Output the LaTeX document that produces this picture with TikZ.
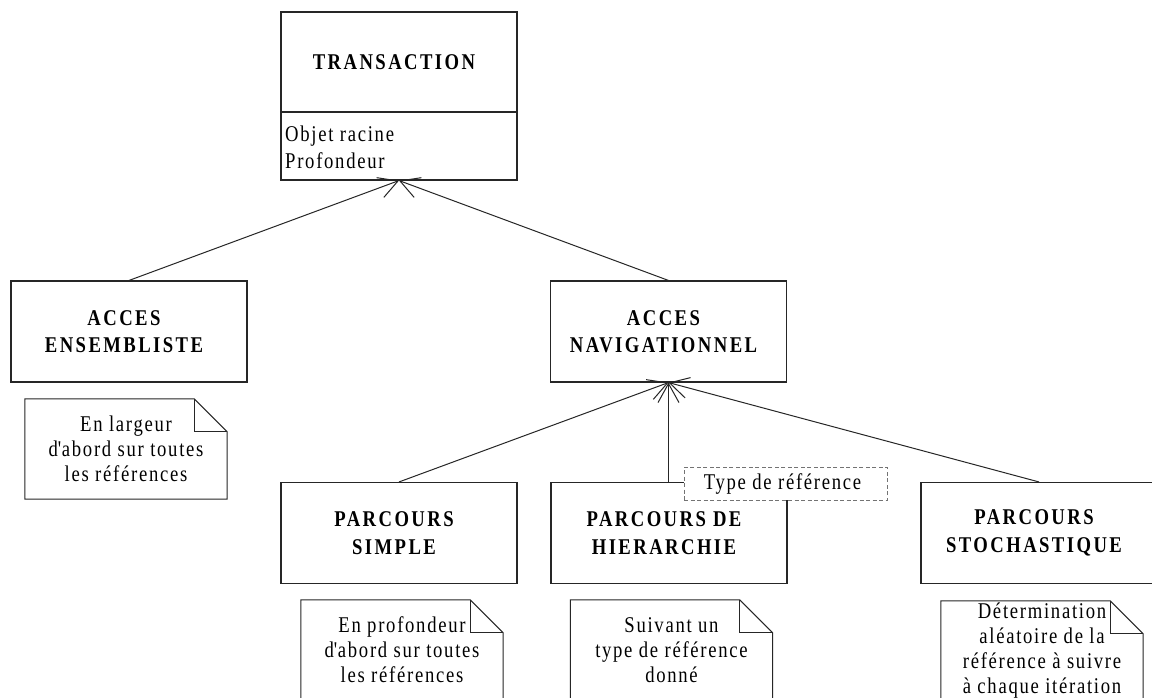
\documentclass[tikz,border=0pt]{standalone}
\usepackage{fontspec}
\setmainfont{Liberation Serif}[FakeStretch=0.83,LetterSpace=7.6]
\newfontfamily\titlefamily{Liberation Serif}[FakeStretch=0.83,LetterSpace=10.8]
\usetikzlibrary{arrows.meta}
\newcommand{\apos}{\textquotesingle}

\begin{document}
\begin{tikzpicture}[x=1pt,y=-1pt,
  boxline/.style={draw=black!85,line width=1.1pt},
  clsbox/.style={boxline,minimum width=236pt,minimum height=101pt,inner sep=0pt},
  titletext/.style={inner sep=0pt,align=center,xshift=-5pt,
    font=\titlefamily\bfseries\fontsize{22.5}{27.5}\selectfont},
  attrtext/.style={inner sep=0pt,align=left,anchor=north west,font=\fontsize{22.5}{27}\selectfont},
  notebox/.style={minimum width=202pt,minimum height=100pt,inner sep=0pt,align=center,
    font=\fontsize{22.5}{25}\selectfont},
  noteline/.style={draw=black!85,line width=1pt},
  tagbox/.style={draw=black!55,line width=1pt,dash pattern=on 4pt off 2.5pt,fill=white,
    minimum width=203pt,minimum height=33pt,inner sep=0pt},
  tagtext/.style={inner sep=0pt,xshift=-3pt,font=\fontsize{22.5}{25}\selectfont},
  inherit/.style={draw=black!85,line width=1pt,-{Straight Barb[length=19pt,width=21pt]}}
]
\useasboundingbox (0,0) rectangle (1152,697);
\clip (0,0) rectangle (1152,697);
\fill[white] (0,0) rectangle (1152,697);

% root class with its attribute compartment
\node[clsbox,minimum height=168pt] (trans) at (399,96) {};
\node[titletext] (transtitle) at (399,62) {TRANSACTION};
\coordinate (divy) at (0,112);
\draw[boxline] (trans.west |- divy) -- (trans.east |- divy);
\node[attrtext] (transattr) at (285,126) {Objet racine\\Profondeur};

% access kinds
\node[clsbox] (ens) at (129,331.5) {};
\node[titletext] (enstitle) at (ens) {ACCES\\ENSEMBLISTE};
\node[clsbox] (nav) at (668.5,331.5) {};
\node[titletext] (navtitle) at (nav) {ACCES\\NAVIGATIONNEL};

% traversal kinds
\node[clsbox] (simple) at (399,533) {};
\node[titletext] (simpletitle) at (simple) {PARCOURS\\SIMPLE};
\node[clsbox] (hier) at (669,533) {};
\node[titletext] (hiertitle) at (hier) {PARCOURS DE\\HIERARCHIE};
\node[clsbox] (stoch) at (1039,533) {};
\node[titletext] (stochtitle) at (stoch) {PARCOURS\\STOCHASTIQUE};

% generalisation links
\draw[inherit] (ens.north) -- (trans.south);
\draw[inherit] (nav.north) -- (trans.south);
\draw[inherit] (simple.north) -- (nav.south);
\draw[inherit] (hier.north -| nav.south) -- (nav.south);
\draw[inherit] (stoch.north) -- (nav.south);

% qualifier on the hierarchy link
\node[tagbox] (typeref) at (785.5,483.5) {};
\node[tagtext] (typereftext) at (typeref) {Type de référence};

% notes
\node[notebox] (n1) at (126,449) {En largeur\\d\apos abord sur toutes\\les références};
\node[notebox] (n2) at (402,650) {En profondeur\\d\apos abord sur toutes\\les références};
\node[notebox] (n3) at (671.5,650) {Suivant un\\type de référence\\donné};
\node[notebox] (n4) at (1042,651) {Détermination\\aléatoire de la\\référence à suivre\\à chaque itération};
\foreach \n in {n1,n2,n3,n4} {
  \draw[noteline] (\n.north west) -- ([xshift=-33pt]\n.north east)
    -- ([yshift=-33pt]\n.north east) -- (\n.south east) -- (\n.south west) -- cycle;
  \draw[noteline] ([xshift=-33pt]\n.north east) -- ([xshift=-33pt,yshift=-33pt]\n.north east)
    -- ([yshift=-33pt]\n.north east);
}
\end{tikzpicture}
\end{document}
